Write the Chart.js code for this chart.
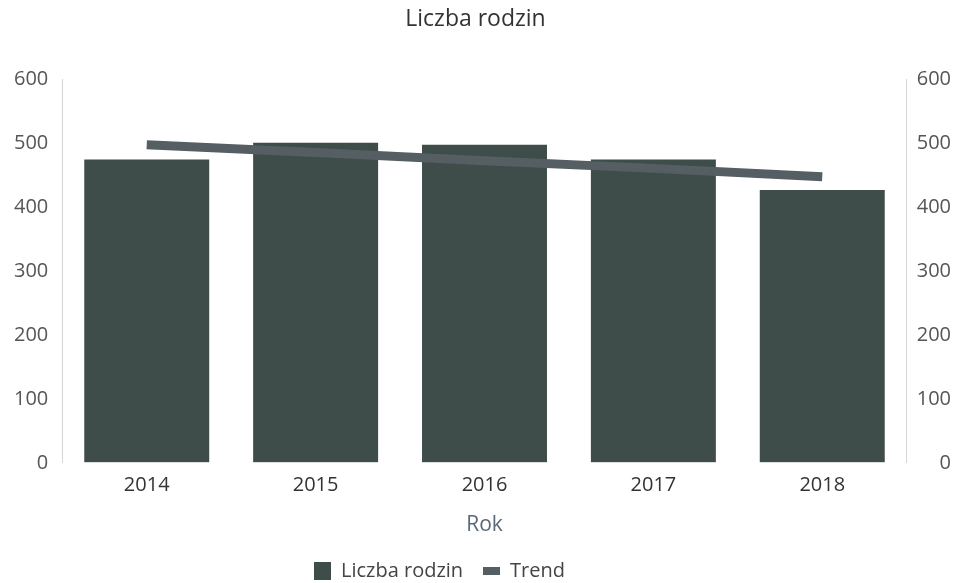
<!DOCTYPE html>
<html>
<head>
<meta charset="utf-8">
<script src="https://cdn.jsdelivr.net/npm/chart.js@4"></script>
<style>
  html, body { margin: 0; padding: 0; background: #fff; overflow: hidden; }
  #wrap { width: 953px; height: 583px; }
</style>
</head>
<body>
<div id="wrap"><canvas id="myChart"></canvas></div>
<script>
var years = ["2014", "2015", "2016", "2017", "2018"];
var families = [475, 501, 498, 475, 427];
var trend = [498, 486, 473, 461, 448];
var axisTicks = [0, 100, 200, 300, 400, 500, 600];

var barColor = "#3e4c4a";
var trendColor = "#555e62";

// small legend markers: a tall square for the bars, a flat strip for the trend line
function marker(w, h, color) {
  var c = document.createElement("canvas");
  c.width = w;
  c.height = h;
  var g = c.getContext("2d");
  g.fillStyle = color;
  g.fillRect(0, 0, w, h);
  return c;
}
var barMarker = marker(17, 18, barColor);
var trendMarker = marker(17, 8, trendColor);

// legend: keep the gap between items but take less room, and sit left of centre
var legendTweak = {
  id: "legendTweak",
  beforeLayout: function (c) {
    var lg = c.legend;
    if (lg && !lg._tweaked) {
      var fit = lg.fit;
      lg.fit = function () { fit.call(this); this.height -= 8; };
      lg._tweaked = true;
    }
  },
  afterLayout: function (c) {
    if (c.legend) c.legend.right -= 72;
  }
};

var ctx = document.getElementById("myChart").getContext("2d");
var chart = new Chart(ctx, {
  type: "bar",
  data: {
    labels: years,
    datasets: [
      {
        type: "line",
        label: "Trend",
        data: trend,
        borderColor: trendColor,
        backgroundColor: trendColor,
        borderWidth: 9,
        pointRadius: 0,
        borderCapStyle: "butt",
        yAxisID: "y",
        order: 0
      },
      {
        label: "Liczba rodzin",
        data: families,
        backgroundColor: barColor,
        barPercentage: 0.74,
        categoryPercentage: 1,
        yAxisID: "y",
        order: 1
      }
    ]
  },
  plugins: [legendTweak],
  options: {
    responsive: true,
    maintainAspectRatio: false,
    animation: false,
    layout: { padding: { left: 0, right: 2, top: 4, bottom: 0 } },
    plugins: {
      title: {
        display: true,
        text: "Liczba rodzin",
        color: "#333",
        font: { family: "Open Sans", size: 23, weight: "normal" },
        padding: { top: 2, bottom: 46 }
      },
      legend: {
        position: "bottom",
        reverse: true,
        labels: {
          color: "#444",
          font: { family: "Open Sans", size: 20 },
          usePointStyle: true,
          pointStyleWidth: 17,
          boxHeight: 18,
          padding: 20,
          generateLabels: function (c) {
            var items = Chart.defaults.plugins.legend.labels.generateLabels(c);
            items.forEach(function (it) {
              it.lineWidth = 0;
              it.pointStyle = it.text === "Trend" ? trendMarker : barMarker;
            });
            return items;
          }
        }
      },
      tooltip: { enabled: false }
    },
    scales: {
      x: {
        grid: { display: false, drawTicks: false },
        border: { display: false },
        ticks: { color: "#333", font: { family: "Open Sans", size: 20 }, padding: 10 },
        title: {
          display: true,
          text: "Rok",
          color: "#5a6878",
          font: { family: "Open Sans", size: 21 },
          padding: { top: 6, bottom: 3 }
        }
      },
      y: {
        position: "left",
        min: 0,
        max: 600,
        afterBuildTicks: function (s) { s.ticks = axisTicks.map(function (v) { return { value: v }; }); },
        grid: { drawOnChartArea: false, drawTicks: false },
        border: { display: true, color: "#d6d6d6", dash: [2, 3] },
        ticks: { color: "#555", font: { family: "Open Sans", size: 20 }, padding: 14 }
      },
      y1: {
        position: "right",
        min: 0,
        max: 600,
        afterBuildTicks: function (s) { s.ticks = axisTicks.map(function (v) { return { value: v }; }); },
        grid: { drawOnChartArea: false, drawTicks: false },
        border: { display: true, color: "#d6d6d6", dash: [2, 3] },
        ticks: { color: "#555", font: { family: "Open Sans", size: 20 }, padding: 5, crossAlign: "far" }
      }
    }
  }
});
</script>
</body>
</html>
